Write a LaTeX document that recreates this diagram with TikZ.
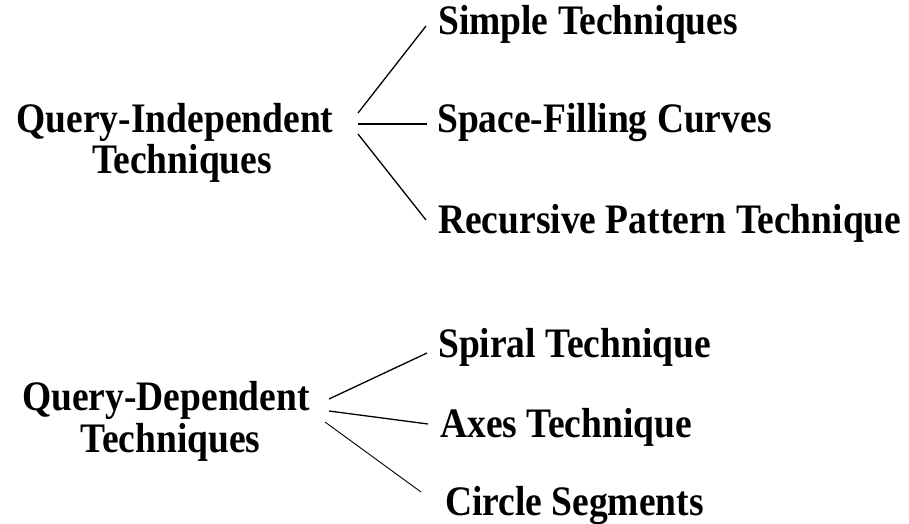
\documentclass[tikz,border=0pt]{standalone}
\usepackage{fontspec}
\setmainfont{Liberation Serif}
\newcommand{\tall}[1]{\scalebox{1}[1.12]{#1}}
\begin{document}
\begin{tikzpicture}[x=1pt,y=-1pt,
  lbl/.style={inner sep=0pt, font=\bfseries\fontsize{37.5}{41}\selectfont},
  leaf/.style={lbl, anchor=base west},
  head/.style={lbl, anchor=base},
  conn/.style={line width=1.3pt},
  connthin/.style={line width=0.9pt}]
\useasboundingbox (0,0) rectangle (909,524);
% left headings
\node[head] (qi1) at (175,132) {\tall{Query-Independent}};
\node[head] (qi2) at (182,173) {\tall{Techniques}};
\node[head] (qd1) at (166,410) {\tall{Query-Dependent}};
\node[head] (qd2) at (170.5,452) {\tall{Techniques}};
% right items
\node[leaf] (simple) at (438,35) {\tall{Simple Techniques}};
\node[leaf] (sfc) at (437,132) {\tall{Space-Filling Curves}};
\node[leaf] (rpt) at (438,233) {\tall{Recursive Pattern Technique}};
\node[leaf] (spiral) at (438,357) {\tall{Spiral Technique}};
\node[leaf] (axes) at (440,437) {\tall{Axes Technique}};
\node[leaf] (circ) at (445,515) {\tall{Circle Segments}};
% connector end points
\coordinate (qiA) at (358,113); \coordinate (simpleE) at (426,26);
\coordinate (qiB) at (358,124); \coordinate (sfcE) at (427,124);
\coordinate (qiC) at (358,134); \coordinate (rptE) at (426,220);
\coordinate (qdA) at (329,399); \coordinate (spiralE) at (427,353);
\coordinate (qdB) at (329,411); \coordinate (axesE) at (428,424);
\coordinate (qdC) at (325,422); \coordinate (circE) at (421,492);
\draw[conn] (qiA) -- (simpleE);
\draw[conn] (qiB) -- (sfcE);
\draw[conn] (qiC) -- (rptE);
\draw[conn] (qdA) -- (spiralE);
\draw[conn] (qdB) -- (axesE);
\draw[connthin] (qdC) -- (circE);
\end{tikzpicture}
\end{document}
